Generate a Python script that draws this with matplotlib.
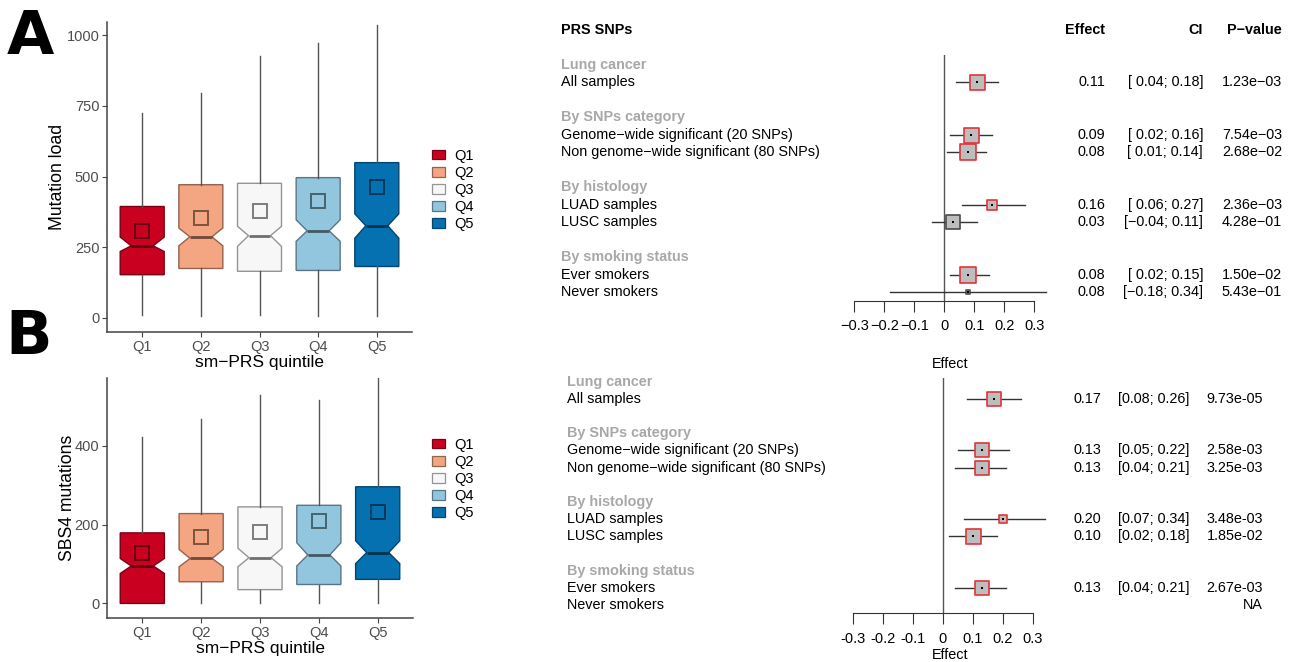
import numpy as np
import matplotlib
matplotlib.use("Agg")
import matplotlib.pyplot as plt
import matplotlib.transforms as mtransforms
from matplotlib.colors import to_rgb
from matplotlib.patches import Patch

plt.rcParams['font.family'] = ['Liberation Sans', 'DejaVu Sans']

W, H = 1292, 662

# --- box plots ---
quintiles = ['Q1', 'Q2', 'Q3', 'Q4', 'Q5']
box_colors = ['#CA0020', '#F4A582', '#F7F7F7', '#92C5DE', '#0571B0']

load_whislo = [12, 6, 12, 6, 6]
load_q1 = [153, 175, 165, 168, 182]
load_cilo = [235, 255, 253, 271, 282]
load_med = [255, 287, 291, 308, 326]
load_cihi = [286, 318, 324, 347, 368]
load_q3 = [394, 471, 476, 496, 549]
load_whishi = [723, 796, 926, 971, 1035]
load_mean = [308, 355, 379, 414, 462]

sbs4_whislo = [0, 0, 0, 0, 0]
sbs4_q1 = [0, 55, 35, 48, 61]
sbs4_cilo = [76, 93, 93, 95, 101]
sbs4_med = [95, 114, 116, 123, 129]
sbs4_cihi = [114, 137, 140, 154, 159]
sbs4_q3 = [179, 228, 245, 249, 296]
sbs4_whishi = [423, 468, 528, 516, 610]
sbs4_mean = [127, 169, 180, 209, 232]

# --- forest plots ---
groups = ['Lung cancer', 'By SNPs category', 'By histology', 'By smoking status']
subgroups = [['All samples'],
             ['Genome−wide significant (20 SNPs)', 'Non genome−wide significant (80 SNPs)'],
             ['LUAD samples', 'LUSC samples'],
             ['Ever smokers', 'Never smokers']]

est_a = [0.11, 0.09, 0.08, 0.16, 0.03, 0.08, 0.08]
lo_a = [0.04, 0.02, 0.01, 0.06, -0.04, 0.02, -0.18]
hi_a = [0.18, 0.16, 0.14, 0.27, 0.11, 0.15, 0.34]
p_a = [1.23e-03, 7.54e-03, 2.68e-02, 2.36e-03, 4.28e-01, 1.50e-02, 5.43e-01]

est_b = [0.17, 0.13, 0.13, 0.20, 0.10, 0.13, np.nan]
lo_b = [0.08, 0.05, 0.04, 0.07, 0.02, 0.04, np.nan]
hi_b = [0.26, 0.22, 0.21, 0.34, 0.18, 0.21, np.nan]
p_b = [9.73e-05, 2.58e-03, 3.25e-03, 3.48e-03, 1.85e-02, 2.67e-03, np.nan]

forest_ticks = [-0.3, -0.2, -0.1, 0, 0.1, 0.2, 0.3]


def rect(l, t, r, b):
    # pixel box -> figure fraction
    return [l / W, 1 - b / H, (r - l) / W, (b - t) / H]


def darker(c, f=0.6):
    return tuple(np.array(to_rgb(c)) * f)


fig = plt.figure(figsize=(W / 100, H / 100), dpi=100)


def draw_box(px, whislo, q1, cilo, med, cihi, q3, whishi, mean, ylim, yticks, ylabel,
             ylab_pad, leg_y):
    ax = fig.add_axes(rect(*px))
    stats = [dict(whislo=a, q1=b, cilo=c, med=d, cihi=e, q3=f, whishi=g, mean=h, fliers=[])
             for a, b, c, d, e, f, g, h in zip(whislo, q1, cilo, med, cihi, q3, whishi, mean)]
    bp = ax.bxp(stats, positions=np.arange(1, 6), widths=0.75, patch_artist=True,
                shownotches=True, showmeans=True, showcaps=False, showfliers=False,
                boxprops=dict(linewidth=1.0),
                whiskerprops=dict(color='#555555', linewidth=1.0),
                medianprops=dict(color='#333333', linewidth=2.0),
                meanprops=dict(marker='s', markersize=9.5, markerfacecolor='none',
                               markeredgewidth=1.4))
    for i, c in enumerate(box_colors):
        bp['boxes'][i].set_facecolor(c)
        bp['boxes'][i].set_edgecolor(darker(c, 0.6))
        bp['medians'][i].set_color(darker(c, 0.45))
        bp['means'][i].set_markeredgecolor(darker(c, 0.5))
    ax.set_xlim(0.4, 5.6)
    ax.set_ylim(*ylim)
    ax.set_yticks(yticks)
    ax.set_xticks(np.arange(1, 6))
    ax.set_xticklabels(quintiles)
    for s in ['top', 'right']:
        ax.spines[s].set_visible(False)
    for s in ['left', 'bottom']:
        ax.spines[s].set_color('#444444')
        ax.spines[s].set_linewidth(1.1)
    ax.tick_params(labelsize=10.5, labelcolor='#4d4d4d', color='#444444', length=3.5, pad=2)
    ax.set_ylabel(ylabel, fontsize=12.7, labelpad=ylab_pad)
    ax.set_xlabel('sm−PRS quintile', fontsize=12.5, labelpad=1)

    handles = [Patch(facecolor=c, edgecolor=darker(c, 0.6), lw=0.9) for c in box_colors]
    fig.legend(handles, quintiles, loc='center left', bbox_to_anchor=(432 / W, 1 - leg_y / H),
               frameon=False, fontsize=10.5, handlelength=0.9, handleheight=0.65,
               labelspacing=0.22, handletextpad=0.6, borderaxespad=0, borderpad=0)
    return ax


def draw_forest(px, xlim, ylim, est, lo, hi, pvals, text_x, col_x, unicode_minus,
                ci_pad, size_k, tick_pad, xlab_pad, header):
    ax = fig.add_axes(rect(*px))
    ax.set_xlim(*xlim)
    ax.set_ylim(*ylim)
    ax.patch.set_alpha(0)
    tr = mtransforms.blended_transform_factory(fig.transFigure, ax.transData)
    fs = 10.4

    def fix(s):
        return s.replace('-', '−') if unicode_minus else s

    rows = []
    r = 0
    for g, items in zip(groups, subgroups):
        ax.text(text_x / W, r, g, transform=tr, ha='left', va='center', fontsize=fs,
                color='#a8a8a8', fontweight='bold')
        r += 1
        for it in items:
            ax.text(text_x / W, r, it, transform=tr, ha='left', va='center', fontsize=fs)
            rows.append(r)
            r += 1
        r += 1

    if header:
        ax.text(text_x / W, -2, 'PRS SNPs', transform=tr, ha='left', va='center',
                fontsize=fs, fontweight='bold')
        for x, t in zip(col_x, ['Effect', 'CI', 'P−value']):
            ax.text(x / W, -2, t, transform=tr, ha='right', va='center', fontsize=fs,
                    fontweight='bold')

    ax.axvline(0, color='#555555', lw=1.0, zorder=1)
    for y, e, l, h, p in zip(rows, est, lo, hi, pvals):
        if np.isnan(e):
            ax.text(col_x[2] / W, y, 'NA', transform=tr, ha='right', va='center', fontsize=fs)
            continue
        ax.plot([l, h], [y, y], color='#333333', lw=1.0, zorder=2)
        side = size_k / (h - l) * 0.72
        edge = '#e0353b' if p < 0.05 else '#4a4a4a'
        ax.scatter([e], [y], marker='s', s=side ** 2, facecolor='#bdbdbd', edgecolor=edge,
                   linewidths=1.2, zorder=3)
        ax.scatter([e], [y], marker='s', s=2.5, color='black', linewidths=0, zorder=4)
        ci = f"[{l:5.2f}; {h:.2f}]" if ci_pad else f"[{l:.2f}; {h:.2f}]"
        for x, t in zip(col_x, [f"{e:.2f}", ci, f"{p:.2e}"]):
            ax.text(x / W, y, fix(t), transform=tr, ha='right', va='center', fontsize=fs)

    for s in ['top', 'right', 'left']:
        ax.spines[s].set_visible(False)
    ax.spines['bottom'].set_bounds(forest_ticks[0], forest_ticks[-1])
    ax.spines['bottom'].set_color('#333333')
    ax.set_yticks([])
    ax.set_xticks(forest_ticks)
    ax.set_xticklabels([fix(f"{t:g}") for t in forest_ticks])
    ax.tick_params(axis='x', length=8, color='#333333', labelsize=10.5, pad=tick_pad)
    ax.set_xlabel('Effect', fontsize=10.4, labelpad=xlab_pad)
    return ax


draw_box((107, 22, 412, 332), load_whislo, load_q1, load_cilo, load_med, load_cihi, load_q3,
         load_whishi, load_mean, (-49.5, 1046), [0, 250, 500, 750, 1000], 'Mutation load',
         0.5, 190)
draw_box((107, 378, 413, 618), sbs4_whislo, sbs4_q1, sbs4_cilo, sbs4_med, sbs4_cihi, sbs4_q3,
         sbs4_whishi, sbs4_mean, (-37, 572), [0, 200, 400], 'SBS4 mutations', -1, 479)

draw_forest((845, 55, 1055, 301), (-0.331, 0.369), (13.49, -0.57), est_a, lo_a, hi_a, p_a,
            561, (1105, 1203, 1282), True, True, 2.1, 5, 17, True)
draw_forest((845, 378, 1055, 613), (-0.328, 0.375), (13.46, -0.22), est_b, lo_b, hi_b, p_b,
            567, (1101, 1189, 1263), False, False, 2.4, 6, 1, False)

fig.text(30 / W, 1 - 38 / H, 'A', fontsize=44, fontweight='bold', family='DejaVu Sans',
         ha='center', va='center')
fig.text(29 / W, 1 - 337 / H, 'B', fontsize=44, fontweight='bold', family='DejaVu Sans',
         ha='center', va='center')

fig.savefig('out.png', dpi=100)
